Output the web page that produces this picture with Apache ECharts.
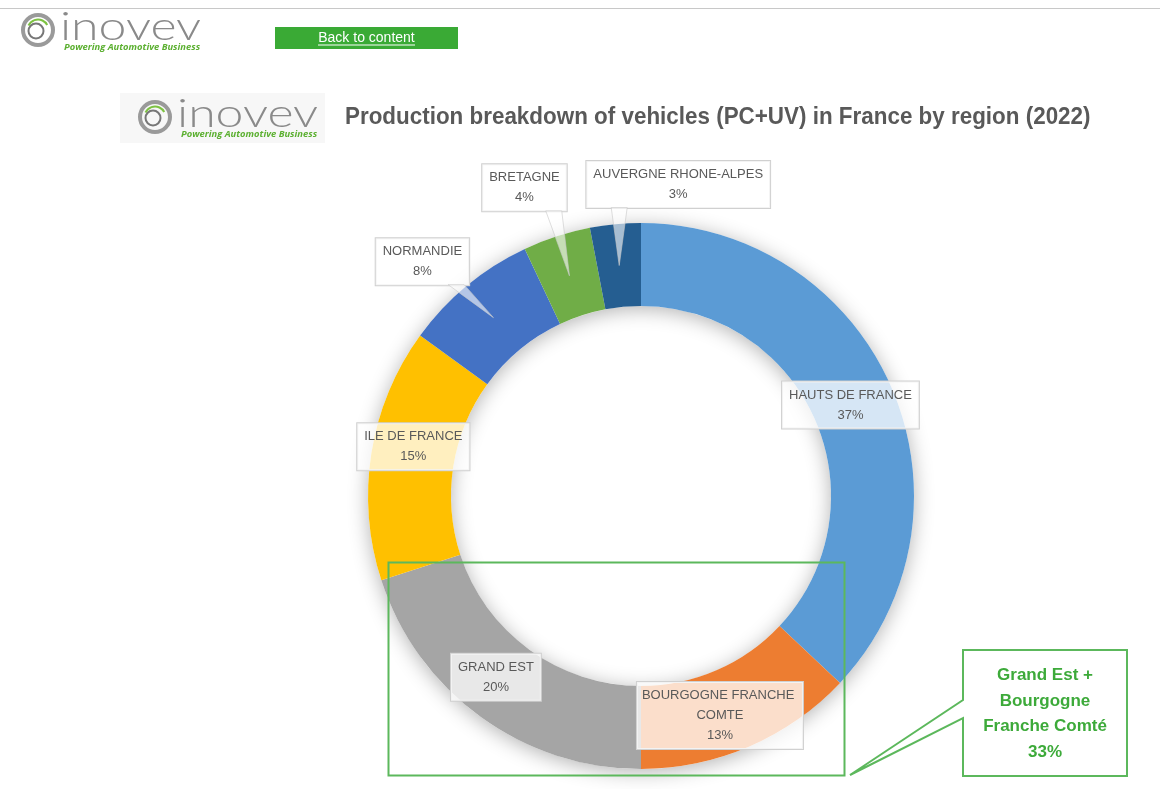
<!DOCTYPE html>
<html><head><meta charset="utf-8">
<script src="https://cdn.jsdelivr.net/npm/echarts@6.0.0/dist/echarts.min.js"></script>
<style>html,body{margin:0;padding:0;background:#fff}#c{width:1160px;height:789px}</style>
</head><body><div id="c"></div>
<script>
// ---- data ----
const regions = ['HAUTS DE FRANCE', 'BOURGOGNE FRANCHE COMTE', 'GRAND EST', 'ILE DE FRANCE', 'NORMANDIE', 'BRETAGNE', 'AUVERGNE RHONE-ALPES'];
const shares = [37, 13, 20, 15, 8, 4, 3];
const highlighted = ['GRAND EST', 'BOURGOGNE FRANCHE COMTE'];
const highlightNames = ['Grand Est +', 'Bourgogne', 'Franche Comté'];
const titleText = 'Production breakdown of vehicles (PC+UV) in France by region (2022)';

// ---- styles / layout ----
const colors = ['#5B9BD5', '#ED7D31', '#A5A5A5', '#FFC000', '#4472C4', '#70AD47', '#255E91'];
const CX = 641, CY = 496, R0 = 190, R1 = 273;
const SANS = '"Liberation Sans", Arial, sans-serif';
const labelOffsets = [[-3, 1], [-13, 7], [-9, -6], [1, -13], [-71, -56], [-45, -88], [59, -81]];
const calloutIdx = [4, 5, 6];
const wrapWidth = { 1: 162 };
const LABEL_HALF_H = 24;
const GREEN = '#3DAA3A';

const total = shares.reduce((a, b) => a + b, 0);
let cum = 0;
const anchors = shares.map(v => {
  const mid = (cum + v / 2) / total; cum += v;
  const a = mid * 2 * Math.PI, r = (R0 + R1) / 2;
  return [CX + r * Math.sin(a), CY - r * Math.cos(a)];
});
const labelPos = anchors.map((an, i) => [an[0] + labelOffsets[i][0], an[1] + labelOffsets[i][1]]);
const combined = highlighted.map(n => shares[regions.indexOf(n)]).reduce((a, b) => a + b, 0);

// callout pointer wedges (from label box to its slice)
const textWidths = regions.map(n => { const c = document.createElement('canvas').getContext('2d'); c.font = '13px ' + SANS; return c.measureText(n).width; });
const wedges = calloutIdx.map(i => {
  const an = anchors[i], lp = labelPos[i];
  const hw = textWidths[i] / 2 + 8;
  const by = lp[1] + LABEL_HALF_H - 1;
  const bx = Math.min(Math.max(an[0], lp[0] - hw + 14), lp[0] + hw - 14);
  return {
    type: 'polygon', z: 50,
    shape: { points: [[bx - 8, by], [an[0], an[1]], [bx + 8, by]] },
    style: { fill: 'rgba(255,255,255,0.6)', stroke: 'rgba(200,200,200,0.6)', lineWidth: 1 }
  };
});

function logo(x, y, withBg) {
  const children = [];
  if (withBg) children.push({ type: 'rect', shape: { x: -15, y: -24, width: 205, height: 50 }, style: { fill: '#f7f7f7' } });
  children.push(
    { type: 'circle', shape: { cx: 20, cy: 0, r: 15 }, style: { fill: 'none', stroke: '#9a9a9a', lineWidth: 4 } },
    { type: 'arc', shape: { cx: 20, cy: 0, r: 10.5, startAngle: -2.7, endAngle: -0.5 }, style: { fill: 'none', stroke: '#7dc242', lineWidth: 2 } },
    { type: 'circle', shape: { cx: 18, cy: 1, r: 7.5 }, style: { fill: 'none', stroke: '#777', lineWidth: 2 } },
    { type: 'text', x: 42, y: -3, scaleX: 1.25, style: { text: 'inovev', font: '300 40px Lato, "Open Sans", sans-serif', fill: '#8a8a8a', verticalAlign: 'middle' } },
    { type: 'text', x: 46, y: 17, style: { text: 'Powering Automotive Business', font: 'italic bold 9.4px "Open Sans", sans-serif', fill: '#5cb031', verticalAlign: 'middle' } }
  );
  return { type: 'group', x: x, y: y, children: children };
}

const data = regions.map((n, i) => {
  const lab = {};
  if (wrapWidth[i]) { lab.width = wrapWidth[i]; lab.overflow = 'break'; lab.padding = [4, 2, 3, 2]; }
  return { name: n, value: shares[i], itemStyle: { color: colors[i] }, label: lab };
});

const chart = echarts.init(document.getElementById('c'), null, { renderer: 'canvas' });
chart.setOption({
  backgroundColor: '#fff',
  animation: false,
  graphic: [
    { type: 'line', shape: { x1: 0, y1: 8.5, x2: 1160, y2: 8.5 }, style: { stroke: '#c8c8c8', lineWidth: 1 } },
    logo(18, 30, false),
    { type: 'rect', shape: { x: 275, y: 27, width: 183, height: 22 }, style: { fill: '#3aaa35' } },
    { type: 'text', x: 366.5, y: 38, style: { text: 'Back to content', font: '14px ' + SANS, fill: '#fff', align: 'center', verticalAlign: 'middle' } },
    { type: 'line', shape: { x1: 318, y1: 45, x2: 415, y2: 45 }, style: { stroke: '#fff', lineWidth: 1 } },
    logo(135, 117, true),
    { type: 'text', x: 345, y: 117, scaleX: 0.934, style: { text: titleText, font: 'bold 24px ' + SANS, fill: '#595959', verticalAlign: 'middle' } },
    ...wedges,
    { type: 'rect', z: 100, shape: { x: 388.5, y: 562.5, width: 456, height: 213 }, style: { fill: 'none', stroke: '#5cb85c', lineWidth: 2 } },
    { type: 'polygon', z: 100, shape: { points: [[963, 650], [1127, 650], [1127, 776], [963, 776], [963, 718], [850, 775], [963, 700]] }, style: { fill: '#fff', stroke: '#5cb85c', lineWidth: 2 } },
    { type: 'text', z: 101, x: 1045, y: 714, style: { text: highlightNames.join('\n') + '\n' + combined + '%', font: 'bold 17px ' + SANS, fill: GREEN, align: 'center', verticalAlign: 'middle', lineHeight: 25.5 } }
  ],
  series: [
    {
      type: 'pie', silent: true, z: 1, center: [CX, CY], radius: [R0, R1], startAngle: 90,
      label: { show: false }, labelLine: { show: false },
      itemStyle: { color: '#fff', shadowBlur: 20, shadowColor: 'rgba(0,0,0,0.3)', shadowOffsetY: 3 },
      data: [{ value: 1 }]
    },
    {
      type: 'pie', z: 2, center: [CX, CY], radius: [R0, R1], startAngle: 90, clockwise: true,
      avoidLabelOverlap: false, percentPrecision: 0,
      itemStyle: { borderWidth: 0 },
      emphasis: { disabled: true },
      label: {
        show: true, position: 'inside', formatter: '{b}\n{d}%', color: '#595959', fontFamily: SANS, fontSize: 13,
        lineHeight: 20, align: 'center', backgroundColor: 'rgba(255,255,255,0.75)', borderColor: '#d0d0d0',
        borderWidth: 1, padding: [4, 7, 3, 7], overflow: 'none'
      },
      labelLine: { show: false },
      labelLayout: function (p) {
        const lp = labelPos[p.dataIndex];
        return { x: lp[0], y: lp[1], align: 'center', verticalAlign: 'middle' };
      },
      data: data
    }
  ]
});
</script></body></html>
